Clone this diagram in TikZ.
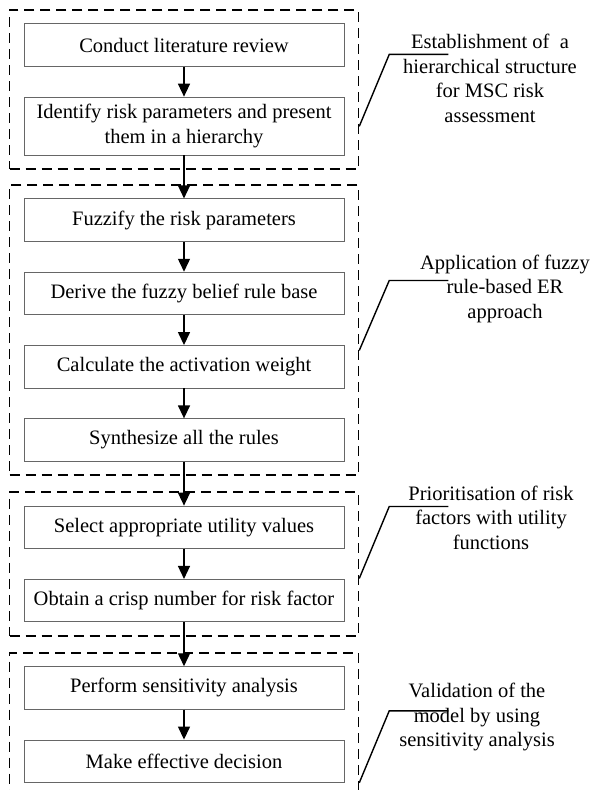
\documentclass[tikz,border=0pt]{standalone}
\usepackage{fontspec}
\setmainfont{Liberation Serif}
\usetikzlibrary{arrows.meta,positioning,fit,calc}

\begin{document}
\begin{tikzpicture}[x=1pt, y=-1pt, >={Triangle[length=13pt,width=12pt]}, node distance=30pt]
\tikzset{
  stepbox/.style={draw=black!60, line width=0.8pt, minimum width=320pt, minimum height=42.5pt, inner sep=2pt, align=center, font=\fontsize{20.5}{24.5}\selectfont},
  group/.style={draw, line width=1.7pt, dash pattern=on 10pt off 6pt, inner xsep=14pt, inner ysep=13.5pt},
  note/.style={align=center, inner sep=0pt, font=\fontsize{20.5}{24.5}\selectfont},
  flow/.style={->, line width=1.4pt},
  leader/.style={line width=1.4pt}
}
\useasboundingbox (0,0) rectangle (592,790);

% steps
\node[stepbox] (lit) at (184,45) {Conduct literature review};
\node[stepbox, minimum height=58pt, below=of lit] (ident) {Identify risk parameters and present\\them in a hierarchy};
\node[stepbox, below=43pt of ident] (fuzz) {Fuzzify the risk parameters};
\node[stepbox, below=of fuzz] (rule) {Derive the fuzzy belief rule base};
\node[stepbox, below=of rule] (act) {Calculate the activation weight};
\node[stepbox, below=of act] (synth) {Synthesize all the rules};
\node[stepbox, below=44pt of synth] (util) {Select appropriate utility values};
\node[stepbox, below=of util] (crisp) {Obtain a crisp number for risk factor};
\node[stepbox, below=44pt of crisp] (sens) {Perform sensitivity analysis};
\node[stepbox, below=of sens] (dec) {Make effective decision};
\coordinate[below=30pt of dec] (tail);

% stages
\node[group, fit=(lit)(ident)] (g1) {};
\node[group, fit=(fuzz)(synth)] (g2) {};
\node[group, fit=(util)(crisp)] (g3) {};
\node[group, fit=(sens)(dec)(tail)] (g4) {};

\draw[flow] (lit) -- (ident);
\draw[flow] (ident) -- (fuzz);
\draw[flow] (fuzz) -- (rule);
\draw[flow] (rule) -- (act);
\draw[flow] (act) -- (synth);
\draw[flow] (synth) -- (util);
\draw[flow] (util) -- (crisp);
\draw[flow] (crisp) -- (sens);
\draw[flow] (sens) -- (dec);

% stage notes
\node[note] (n1) at (490,78.5) {Establishment of~ a\\hierarchical structure\\for MSC risk\\assessment};
\node[note] (n2) at (505,288.5) {Application of fuzzy\\rule-based ER\\approach};
\node[note] (n3) at (491,517.5) {Prioritisation of risk\\factors with utility\\functions};
\node[note] (n4) at (477,717) {Validation of the\\model by using\\sensitivity analysis};

\draw[leader] ($(g1.north east)!.73!(g1.south east)$) -- ++(30,-72) -- ++(59,0);
\draw[leader] ($(g2.north east)!.57!(g2.south east)$) -- ++(30,-70) -- ++(59,0);
\draw[leader] ($(g3.north east)!.6!(g3.south east)$) -- ++(30,-72) -- ++(59,0);
\draw[leader] (g4.east |- dec.south) -- ++(30,-72) -- ++(59,0);
\end{tikzpicture}
\end{document}
